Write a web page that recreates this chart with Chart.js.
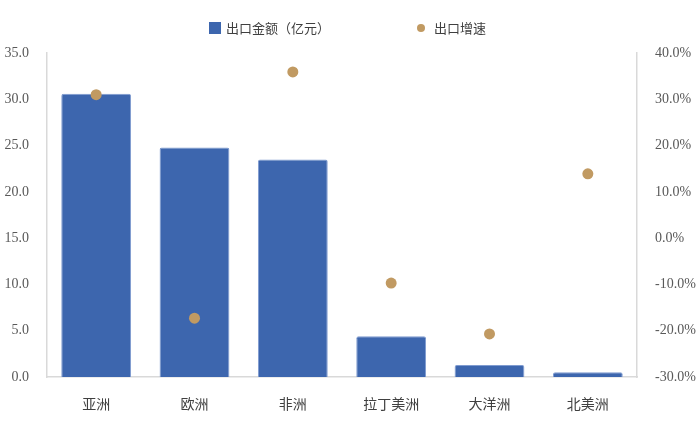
<!DOCTYPE html>
<html>
<head>
<meta charset="utf-8">
<script src="https://cdn.jsdelivr.net/npm/chart.js@4/dist/chart.umd.min.js"></script>
<style>
  html, body { margin: 0; padding: 0; background: #fff; }
  #wrap { width: 700px; height: 422px; }
</style>
</head>
<body>
<div id="wrap"><canvas id="grafico"></canvas></div>
<script>
const regioes = ["亚洲", "欧洲", "非洲", "拉丁美洲", "大洋洲", "北美洲"];
const valorExport = [30.6, 24.8, 23.5, 4.4, 1.3, 0.5];
const crescimento = [31.0, -17.3, 35.9, -9.7, -20.7, 13.9];

const fonteNum = "'Liberation Serif', 'DejaVu Serif', serif";
const fonteCJK = "'Noto Sans CJK SC', sans-serif";

// legenda desenhada à mão: o espaço entre os dois itens é bem maior que o padrão
const legendaTopo = {
  id: "legendaTopo",
  afterDraw(chart) {
    const c = chart.ctx;
    const ds = chart.data.datasets;
    const meio = chart.width / 2;
    const y = 28;
    c.save();
    c.font = "13px " + fonteCJK;
    c.textBaseline = "middle";
    c.fillStyle = ds[0].backgroundColor;
    c.fillRect(meio - 141, y - 6, 12, 12);
    c.fillStyle = "#404040";
    c.fillText(ds[0].label, meio - 124, y);

    c.fillStyle = ds[1].backgroundColor;
    c.beginPath();
    c.arc(meio + 71, y, 4, 0, Math.PI * 2);
    c.fill();
    c.fillStyle = "#404040";
    c.fillText(ds[1].label, meio + 84, y);
    c.restore();
  }
};

const ctx = document.getElementById("grafico").getContext("2d");

new Chart(ctx, {
  type: "bar",
  data: {
    labels: regioes,
    datasets: [
      {
        type: "bar",
        label: "出口金额（亿元）",
        data: valorExport,
        backgroundColor: "#3d66ae",
        borderColor: "#7f9bd0",
        borderWidth: 1,
        borderRadius: 2,
        yAxisID: "y",
        barPercentage: 0.71,
        categoryPercentage: 1,
        order: 2
      },
      {
        type: "line",
        label: "出口增速",
        data: crescimento,
        showLine: false,
        backgroundColor: "#c19a62",
        borderColor: "#c19a62",
        pointRadius: 5.5,
        pointHoverRadius: 5.5,
        pointBorderWidth: 0,
        yAxisID: "y1",
        order: 1
      }
    ]
  },
  options: {
    responsive: true,
    maintainAspectRatio: false,
    animation: false,
    layout: { padding: { left: 0, right: 0, top: 53, bottom: 0 } },
    plugins: {
      legend: { display: false },
      tooltip: { enabled: false }
    },
    scales: {
      x: {
        grid: { display: false },
        border: { display: true, color: "#d9d9d9", width: 1.5 },
        afterFit: s => { s.height = 45; },
        ticks: {
          color: "#404040",
          padding: 10,
          font: { family: fonteCJK, size: 14 }
        }
      },
      y: {
        position: "left",
        min: 0,
        max: 35,
        grid: { display: false },
        border: { display: true, color: "#d9d9d9", width: 1.5 },
        afterFit: s => { s.width = 47; },
        ticks: {
          stepSize: 5,
          color: "#595959",
          padding: 10,
          font: { family: fonteNum, size: 14 },
          callback: v => v.toFixed(1)
        }
      },
      y1: {
        position: "right",
        min: -30,
        max: 40,
        grid: { display: false },
        border: { display: true, color: "#d9d9d9", width: 1.5 },
        afterFit: s => { s.width = 63; },
        ticks: {
          stepSize: 10,
          color: "#595959",
          padding: 10,
          font: { family: fonteNum, size: 14 },
          callback: v => v.toFixed(1) + "%"
        }
      }
    }
  },
  plugins: [legendaTopo]
});
</script>
</body>
</html>
